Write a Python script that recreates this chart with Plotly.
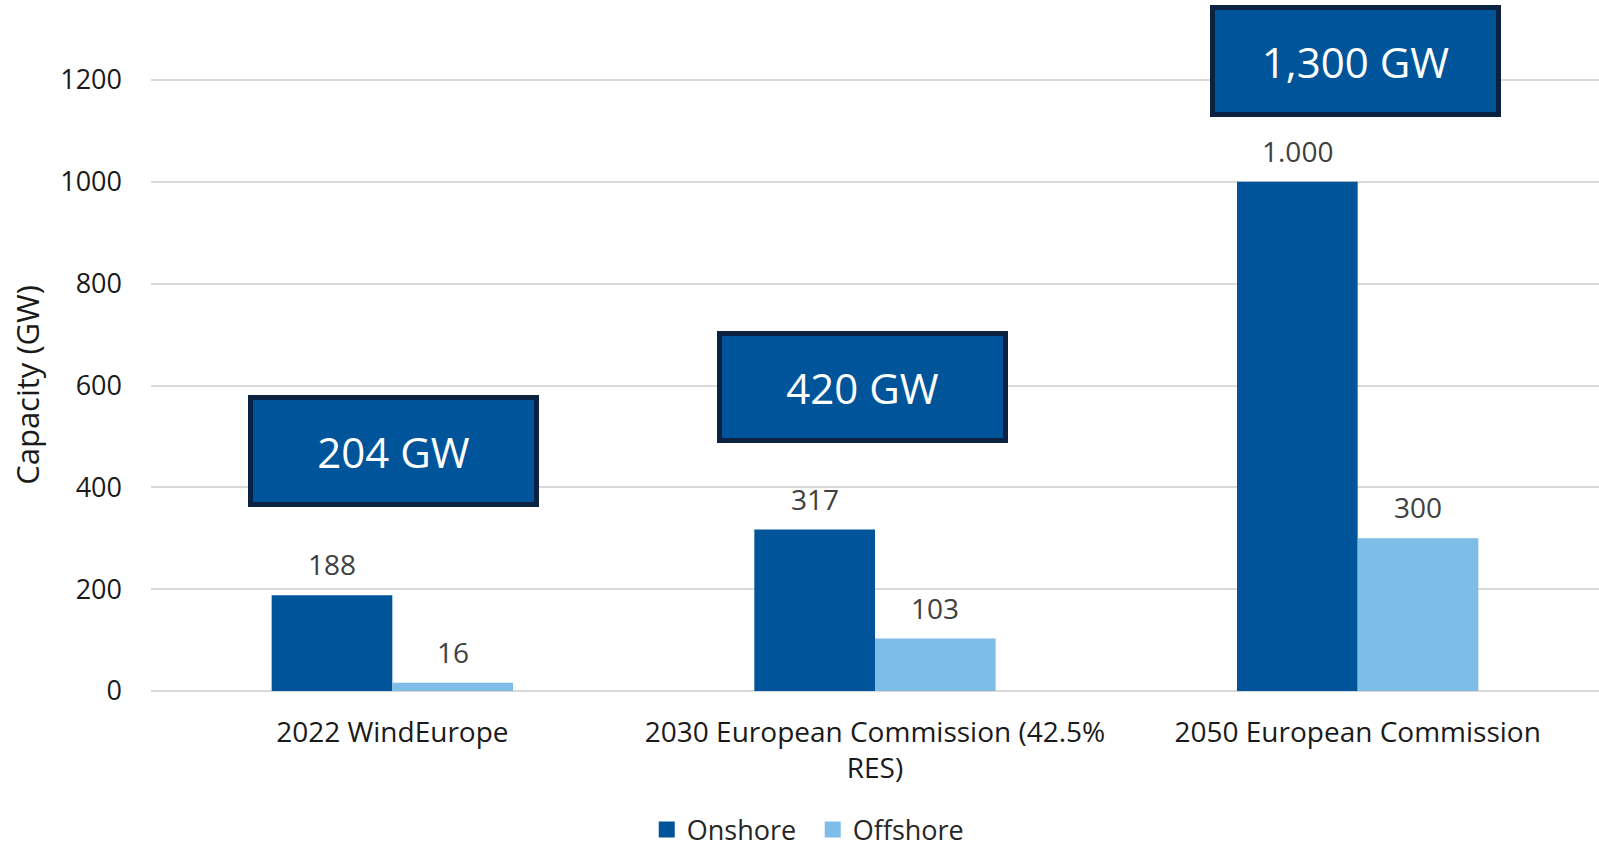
import plotly.graph_objects as go

# ---- data ----
categories = ["2022 WindEurope",
              "2030 European Commission (42.5%<br>RES)",
              "2050 European Commission"]
onshore = [188, 317, 1000]
offshore = [16, 103, 300]
series_names = ["Onshore", "Offshore"]
y_ticks = [0, 200, 400, 600, 800, 1000, 1200]

# ---- layout positions for the total boxes (paper-y of box centre, pixel x shift) ----
box_y = [0.3915, 0.4963, 1.0295]
box_xshift = [1, -13, -2]

ON_COLOR = "#00559A"
OFF_COLOR = "#7DBDE8"
BOX_BORDER = "#0B2240"
FONT = "Open Sans"

fig = go.Figure()
fig.add_trace(go.Bar(name=series_names[0], x=categories, y=onshore, showlegend=False,
                     marker=dict(color=ON_COLOR, line=dict(width=0))))
fig.add_trace(go.Bar(name=series_names[1], x=categories, y=offshore, showlegend=False,
                     marker=dict(color=OFF_COLOR, line=dict(width=0))))
# legend entries with larger square swatches
for name, col in zip(series_names, [ON_COLOR, OFF_COLOR]):
    fig.add_trace(go.Scatter(name=name, x=[None], y=[None], mode="markers",
                             marker=dict(symbol="square", size=19, color=col),
                             showlegend=True, hoverinfo="skip"))

annotations = []
def fmt_label(v):
    return f"{v:,}".replace(",", ".")

for i, (a, b) in enumerate(zip(onshore, offshore)):
    for off, v in ((-0.125, a), (0.125, b)):
        annotations.append(dict(x=i + off, y=v, xref="x", yref="y",
                                text=fmt_label(v), showarrow=False,
                                yanchor="bottom", yshift=10,
                                font=dict(family=FONT, size=28, color="#404040")))
    total = a + b
    annotations.append(dict(x=i, y=box_y[i], xref="x", yref="paper",
                            text=f"{total:,} GW", showarrow=False,
                            xshift=box_xshift[i], yanchor="middle",
                            width=281, height=102, borderpad=0,
                            bgcolor=ON_COLOR, bordercolor=BOX_BORDER, borderwidth=5,
                            font=dict(family=FONT, size=42, color="white")))

fig.update_layout(
    width=1599, height=847,
    margin=dict(l=151, r=0, t=79, b=156, autoexpand=False),
    plot_bgcolor="white", paper_bgcolor="white",
    barmode="group", bargap=0.5, bargroupgap=0,
    font=dict(family=FONT, color="#262626"),
    showlegend=True,
    legend=dict(orientation="h", x=0.457, xanchor="center", y=-0.227, yanchor="middle",
                font=dict(family=FONT, size=27, color="#262626"),
                entrywidth=121, entrywidthmode="pixels",
                itemwidth=30, traceorder="normal"),
    annotations=annotations,
    xaxis=dict(type="category", showgrid=False, showline=False, zeroline=False,
               automargin=False, ticks="", ticklabelstandoff=22,
               tickfont=dict(family=FONT, size=28, color="#1a1a1a")),
    yaxis=dict(range=[0, 1202], tickvals=y_ticks, showgrid=True, gridcolor="#D9D9D9",
               gridwidth=2, zeroline=True, zerolinecolor="#D9D9D9", zerolinewidth=2,
               automargin=False, showline=False, ticks="", ticklabelstandoff=28,
               tickfont=dict(family=FONT, size=27, color="#1a1a1a"),
               title=dict(text="Capacity (GW)", standoff=11,
                          font=dict(family=FONT, size=31, color="#1a1a1a"))),
)

fig.write_html("out.html",
               config={"displayModeBar": False},
               post_script="document.body.style.margin='0';"
                           "document.body.style.overflow='hidden';"
                           "document.documentElement.style.overflow='hidden';")
